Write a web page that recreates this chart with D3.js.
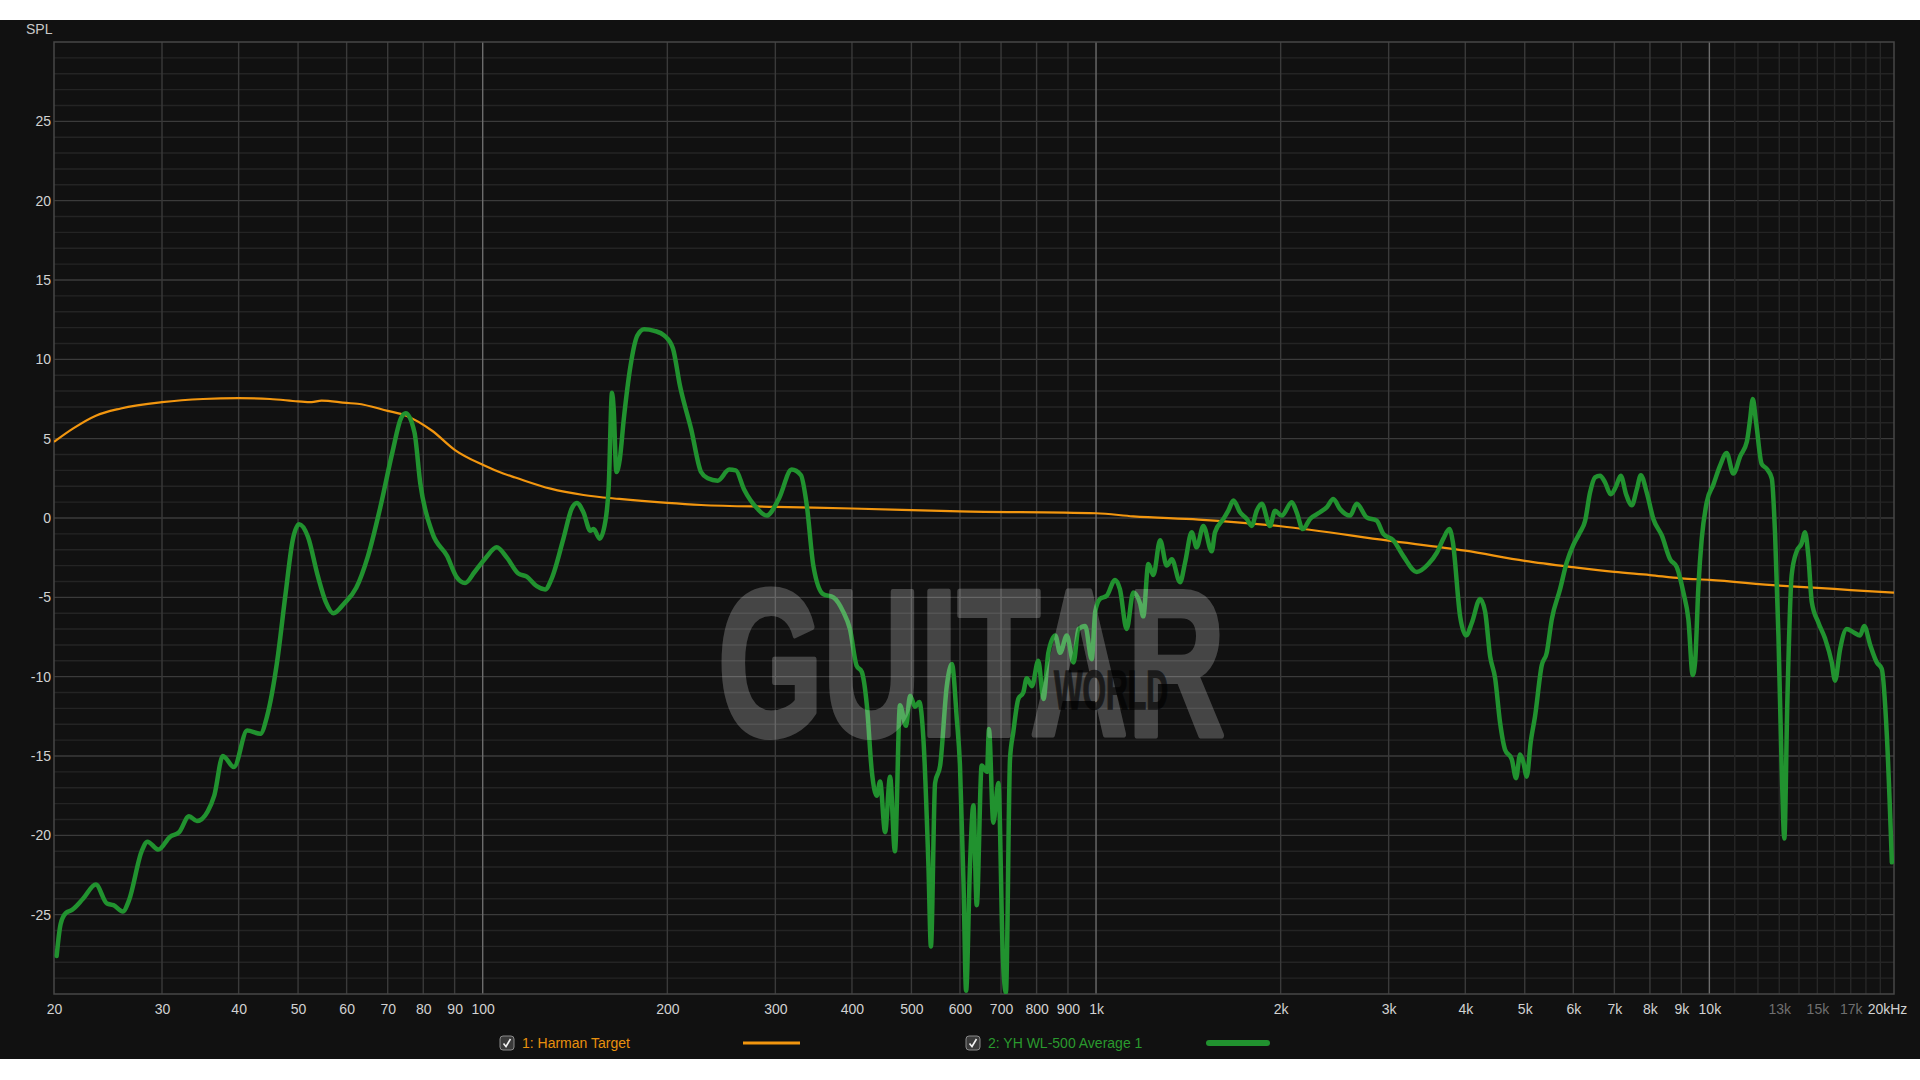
<!DOCTYPE html>
<html>
<head>
<meta charset="utf-8">
<script src="https://cdn.jsdelivr.net/npm/d3@7"></script>
<style>
  html, body { margin: 0; padding: 0; background: #ffffff; }
  svg { display: block; }
  text { font-family: "Liberation Sans", Arial, sans-serif; }
</style>
</head>
<body>
<svg id="chart" width="1920" height="1080"></svg>
<script>
// ---------------- DATA ----------------
const xTickValues = [20,30,40,50,60,70,80,90,100,200,300,400,500,600,700,800,900,1000,2000,3000,4000,5000,6000,7000,8000,9000,10000,13000,15000,17000,20000];
const xTickLabels = ["20","30","40","50","60","70","80","90","100","200","300","400","500","600","700","800","900","1k","2k","3k","4k","5k","6k","7k","8k","9k","10k","13k","15k","17k","20kHz"];
const xDimLabels = ["13k","15k","17k"];
const yTickValues = [-25,-20,-15,-10,-5,0,5,10,15,20,25];
const yTickLabels = ["-25","-20","-15","-10","-5","0","5","10","15","20","25"];
const majorFreqs = [100,1000,10000];
const minorFreqs = [30,40,50,60,70,80,90,200,300,400,500,600,700,800,900,2000,3000,4000,5000,6000,7000,8000,9000];
const hfFreqs = [11000,12000,13000,14000,15000,16000,17000,18000,19000];
const seriesNames = ["1: Harman Target", "2: YH WL-500 Average 1"];
const watermarkWords = ["GUITAR", "WORLD"];

// Harman target [Hz, dB]
const harmanTarget = [
  [20,4.8],[21.5,5.65],[23.4,6.45],[25.7,6.9],[30,7.3],[35,7.5],[40,7.55],[45,7.5],[50,7.35],
  [52.6,7.3],[54.6,7.4],[60,7.25],[62.5,7.2],[70,6.75],[75,6.45],[82.7,5.5],[90,4.3],[100,3.35],
  [108,2.8],[113,2.55],[129,1.85],[146,1.45],[167,1.2],[200,0.95],[227,0.82],[300,0.7],[400,0.6],
  [600,0.42],[1000,0.3],[1150,0.1],[1470,-0.1],[2000,-0.52],[3000,-1.43],[4000,-2.06],[5000,-2.7],
  [6000,-3.1],[7000,-3.4],[8000,-3.6],[9000,-3.8],[10000,-3.9],[13000,-4.26],[15000,-4.4],
  [17000,-4.54],[20000,-4.7]
];

// YH WL-500 Average 1 [Hz, dB]
const yhWl500 = [
  [20.2,-27.6],[20.5,-25.6],[20.9,-24.9],[21.4,-24.7],[22.3,-24.0],[23.4,-23.1],[24.4,-24.3],[25.0,-24.4],
  [25.9,-24.8],[26.5,-24.1],[27.8,-21.0],[28.4,-20.4],[29.6,-20.9],[30.9,-20.1],[32.0,-19.8],[33.2,-18.8],
  [34.2,-19.1],[35.6,-18.5],[36.5,-17.5],[37.7,-15.0],[39.3,-15.7],[41.3,-13.4],[43.4,-13.6],[44.5,-12.5],
  [46.2,-9.1],[47.7,-4.8],[49.0,-1.4],[50.2,-0.4],[51.9,-1.2],[53.8,-3.6],[55.5,-5.3],[57.1,-6.0],
  [59.4,-5.4],[62.2,-4.4],[65.0,-2.4],[68.2,0.8],[71.3,4.2],[73.6,6.3],[74.9,6.6],[77.4,5.4],[79.1,2.2],
  [82.7,-0.9],[87.5,-2.4],[90.6,-3.7],[93.6,-4.1],[97.0,-3.4],
  [101.2,-2.5],[105.4,-1.85],[109.5,-2.5],[114.3,-3.5],[118.0,-3.7],[122.5,-4.3],[126.4,-4.5],[129.6,-3.8],
  [135.4,-1.3],[139.7,0.6],[142.4,0.95],[146.0,0.35],[149.8,-0.8],[151.7,-0.7],[155.1,-1.3],[158.5,-0.2],
  [160.5,2.0],[162.5,7.9],[163.5,6.9],[165.2,2.9],[167.3,3.7],[169.8,6.2],[174.2,9.6],[178.7,11.5],
  [183.3,11.9],[190.4,11.8],[197.8,11.5],[204.2,10.7],[209.8,8.3],[218.7,5.6],[227,2.9],[232.8,2.5],
  [241.6,2.35],[252.3,3.05],[258.6,3.0],[266.8,1.8],[280.3,0.6],[290.2,0.15],[303.9,1.2],[319,3.05],
  [330.2,2.7],[337.6,0.8],
  [346,-3.0],[359,-4.8],[373,-5.0],[387,-5.9],[397,-7.0],[407,-9.3],[415,-9.7],[423,-11.8],[431,-16.0],
  [439,-17.5],[444.5,-16.6],[453,-19.8],[461.5,-16.3],[470,-21.0],[479,-11.8],[490,-13.1],[497.5,-11.2],
  [507,-11.9],[515,-11.6],[523,-13.9],[533,-21.9],[538,-27.0],[546.5,-16.7],[557,-15.6],[571,-10.6],
  [582,-9.2],[593,-12.7],[600,-15.6],[608,-23.0],[614,-29.8],[623,-21.9],[631,-18.1],[639,-24.4],
  [651,-15.6],[664,-16.0],[669,-13.3],[680,-19.2],[693,-16.7],[705,-27.8],[713,-29.9],[724,-15.2],
  [733,-13.5],[747,-11.4],[761,-11.0],[771,-10.1],[786,-10.6],[805,-9.0],[821,-11.4],[836,-8.5],
  [858,-7.4],[874,-8.5],[896,-7.4],[919,-9.1],[936,-7.0],[960,-6.8],[984,-8.9],[997,-5.9],
  [1015,-5.1],[1041,-4.9],[1074,-3.9],[1094,-4.5],[1122,-7.0],[1150,-4.7],[1180,-5.4],[1194,-6.2],
  [1217,-2.9],[1240,-3.6],[1272,-1.4],[1304,-3.0],[1329,-2.6],[1371,-4.05],[1397,-2.8],[1432,-0.9],
  [1459,-1.85],[1496,-0.5],[1544,-2.1],[1563,-0.9],[1613,-0.06],[1643,0.46],[1675,1.1],[1717,0.36],
  [1761,-0.06],[1794,-0.5],[1828,0.46],[1863,0.9],[1921,-0.5],[1958,0.46],[2008,0.15],[2085,1.0],
  [2124,0.36],[2173,-0.7],[2233,-0.06],[2318,0.36],[2377,0.67],[2437,1.2],[2499,0.57],[2595,0.15],
  [2661,0.9],[2762,0.04],[2868,-0.17],[2940,-1.0],[3052,-1.4],[3170,-2.4],[3334,-3.4],[3482,-2.9],
  [3593,-2.2],[3684,-1.3],[3768,-0.7],[3817,-1.5],[3923,-6.2],[4013,-7.4],[4100,-6.6],[4229,-5.1],
  [4309,-5.9],[4390,-8.7],[4474,-10.1],[4558,-12.9],[4644,-14.6],[4762,-15.2],[4840,-16.4],[4913,-14.9],
  [4974,-15.4],[5038,-16.3],[5114,-14.1],[5197,-12.5],[5329,-9.3],[5430,-8.5],[5533,-6.4],[5708,-4.5],
  [5854,-2.8],[6000,-1.7],[6154,-0.9],[6270,-0.2],[6389,1.6],[6510,2.56],[6634,2.67],[6759,2.25],
  [6905,1.5],[7045,2.0],[7170,2.67],[7315,1.5],[7473,0.8],[7615,1.8],[7730,2.7],[7906,1.6],[8104,-0.06],
  [8364,-1.1],[8629,-2.6],[8849,-3.1],[9071,-4.7],[9243,-6.4],[9395,-9.9],[9478,-9.1],[9597,-4.3],
  [9718,-1.3],[9903,1.0],
  [10150,2.1],[10410,3.3],[10670,4.1],[10940,2.8],[11230,3.9],[11510,4.8],[11650,6.2],[11770,7.5],
  [11920,6.0],[12170,3.4],[12400,3.1],[12640,2.5],[12800,-1.1],[12960,-7.4],[13120,-15.8],[13250,-20.2],
  [13400,-11.6],[13620,-3.6],[13880,-2.1],[14140,-1.6],[14320,-0.9],[14500,-2.4],[14690,-5.3],
  [15060,-6.6],[15440,-7.6],[15830,-9.1],[16030,-10.25],[16330,-8.3],[16750,-7.0],[17170,-7.2],
  [17610,-7.4],[17880,-6.8],[18290,-8.0],[18750,-9.1],[19100,-9.5],[19470,-13.7],[19840,-21.7]
];

// ---------------- DRAW ----------------
(function () {
const svg = d3.select("#chart");
const W = 1920;
const pLeft = 54, pRight = 1894, pTop = 42, pBottom = 994;

const x = d3.scaleLog().domain([20, 20000]).range([pLeft, pRight]);
const y = d3.scaleLinear().domain([-30, 30]).range([pBottom, pTop]);

svg.append("rect").attr("x", 0).attr("y", 20).attr("width", W).attr("height", 1039).attr("fill", "#111111");

const grid = svg.append("g");
d3.range(-29, 30).forEach(v => {
  grid.append("line")
    .attr("x1", pLeft).attr("x2", pRight)
    .attr("y1", y(v)).attr("y2", y(v))
    .attr("stroke", v % 5 === 0 ? "#3b3b3b" : "#242424")
    .attr("stroke-width", 1.4);
});
hfFreqs.forEach(f => {
  grid.append("line").attr("x1", x(f)).attr("x2", x(f)).attr("y1", pTop).attr("y2", pBottom)
    .attr("stroke", "#272727").attr("stroke-width", 1.4);
});
minorFreqs.forEach(f => {
  grid.append("line").attr("x1", x(f)).attr("x2", x(f)).attr("y1", pTop).attr("y2", pBottom)
    .attr("stroke", "#3a3a3a").attr("stroke-width", 1.4);
});
majorFreqs.forEach(f => {
  grid.append("line").attr("x1", x(f)).attr("x2", x(f)).attr("y1", pTop).attr("y2", pBottom)
    .attr("stroke", "#6c6c6c").attr("stroke-width", 1.4);
});
svg.append("rect").attr("x", pLeft).attr("y", pTop).attr("width", pRight - pLeft).attr("height", pBottom - pTop)
  .attr("fill", "none").attr("stroke", "#474747").attr("stroke-width", 1.5);

const xAxis = d3.axisBottom(x).tickValues(xTickValues)
  .tickFormat((d, i) => xTickLabels[i]).tickSize(0).tickPadding(10);
const gx = svg.append("g").attr("transform", `translate(0,${pBottom})`).call(xAxis);
gx.select(".domain").remove();
gx.selectAll("text")
  .attr("font-size", 14)
  .attr("font-family", "'Liberation Sans', Arial, sans-serif")
  .attr("fill", (d, i) => xDimLabels.includes(xTickLabels[i]) ? "#6f6f6f" : "#d2d2d2")
  .attr("dx", (d, i) => i === xTickLabels.length - 1 ? -7 : 0);

const yAxis = d3.axisLeft(y).tickValues(yTickValues)
  .tickFormat((d, i) => yTickLabels[i]).tickSize(0).tickPadding(3);
const gy = svg.append("g").attr("transform", `translate(${pLeft},0)`).call(yAxis);
gy.select(".domain").remove();
gy.selectAll("text")
  .attr("font-size", 14)
  .attr("font-family", "'Liberation Sans', Arial, sans-serif")
  .attr("fill", "#d2d2d2");

svg.append("text").attr("x", 26).attr("y", 34).attr("font-size", 14).attr("fill", "#c8c8c8").text("SPL");

svg.append("clipPath").attr("id", "plotclip").append("rect")
  .attr("x", pLeft).attr("y", pTop).attr("width", pRight - pLeft).attr("height", pBottom - pTop);

const line = d3.line().x(d => x(d[0])).y(d => y(d[1])).curve(d3.curveMonotoneX);

const plot = svg.append("g").attr("clip-path", "url(#plotclip)");
plot.append("path").datum(harmanTarget).attr("d", line)
  .attr("fill", "none").attr("stroke", "#f2960f").attr("stroke-width", 2.2);
plot.append("path").datum(yhWl500).attr("d", line)
  .attr("fill", "none").attr("stroke", "#21922f").attr("stroke-width", 4.5)
  .attr("stroke-linejoin", "round").attr("stroke-linecap", "round");

// watermark logo: one text element, two words (second word dark, overlapping lower right)
const wm = svg.append("g").attr("pointer-events", "none");
const wmLight = wm.append("g").attr("opacity", 0.22);
wmLight.append("text").attr("x", 718).attr("y", 735)
  .attr("font-family", "'DejaVu Sans', sans-serif").attr("font-weight", "bold")
  .attr("font-size", 208).attr("textLength", 507).attr("lengthAdjust", "spacingAndGlyphs")
  .attr("fill", "#ffffff").attr("stroke", "#ffffff").attr("stroke-width", 6)
  .attr("stroke-linejoin", "round").text(watermarkWords[0]);
const wmDark = wm.append("g").attr("opacity", 0.62);
wmDark.append("text").attr("x", 1054).attr("y", 709)
  .attr("font-family", "'DejaVu Sans', sans-serif").attr("font-weight", "bold")
  .attr("font-size", 56).attr("textLength", 114).attr("lengthAdjust", "spacingAndGlyphs")
  .attr("fill", "#000000").attr("stroke", "#000000").attr("stroke-width", 1.5)
  .text(watermarkWords[1]);

const legend = svg.append("g");
function checkbox(cx) {
  const g = legend.append("g").attr("transform", `translate(${cx},1043)`);
  g.append("rect").attr("x", -7).attr("y", -7).attr("width", 14).attr("height", 14).attr("rx", 3)
    .attr("fill", "#3a3a3a").attr("stroke", "#8a8a8a").attr("stroke-width", 1);
  g.append("path").attr("d", "M-3.5,0.5 L-1,3.5 L3.5,-4").attr("fill", "none")
    .attr("stroke", "#f0f0f0").attr("stroke-width", 1.6);
}
checkbox(507);
legend.append("text").attr("x", 522).attr("y", 1048).attr("font-size", 14).attr("fill", "#e8900e").text(seriesNames[0]);
legend.append("line").attr("x1", 743).attr("x2", 800).attr("y1", 1043).attr("y2", 1043)
  .attr("stroke", "#f2960f").attr("stroke-width", 3);
checkbox(973);
legend.append("text").attr("x", 988).attr("y", 1048).attr("font-size", 14).attr("fill", "#2a9a2e").text(seriesNames[1]);
legend.append("line").attr("x1", 1209).attr("x2", 1267).attr("y1", 1043).attr("y2", 1043)
  .attr("stroke", "#21922f").attr("stroke-width", 6).attr("stroke-linecap", "round");
})();
</script>
</body>
</html>
